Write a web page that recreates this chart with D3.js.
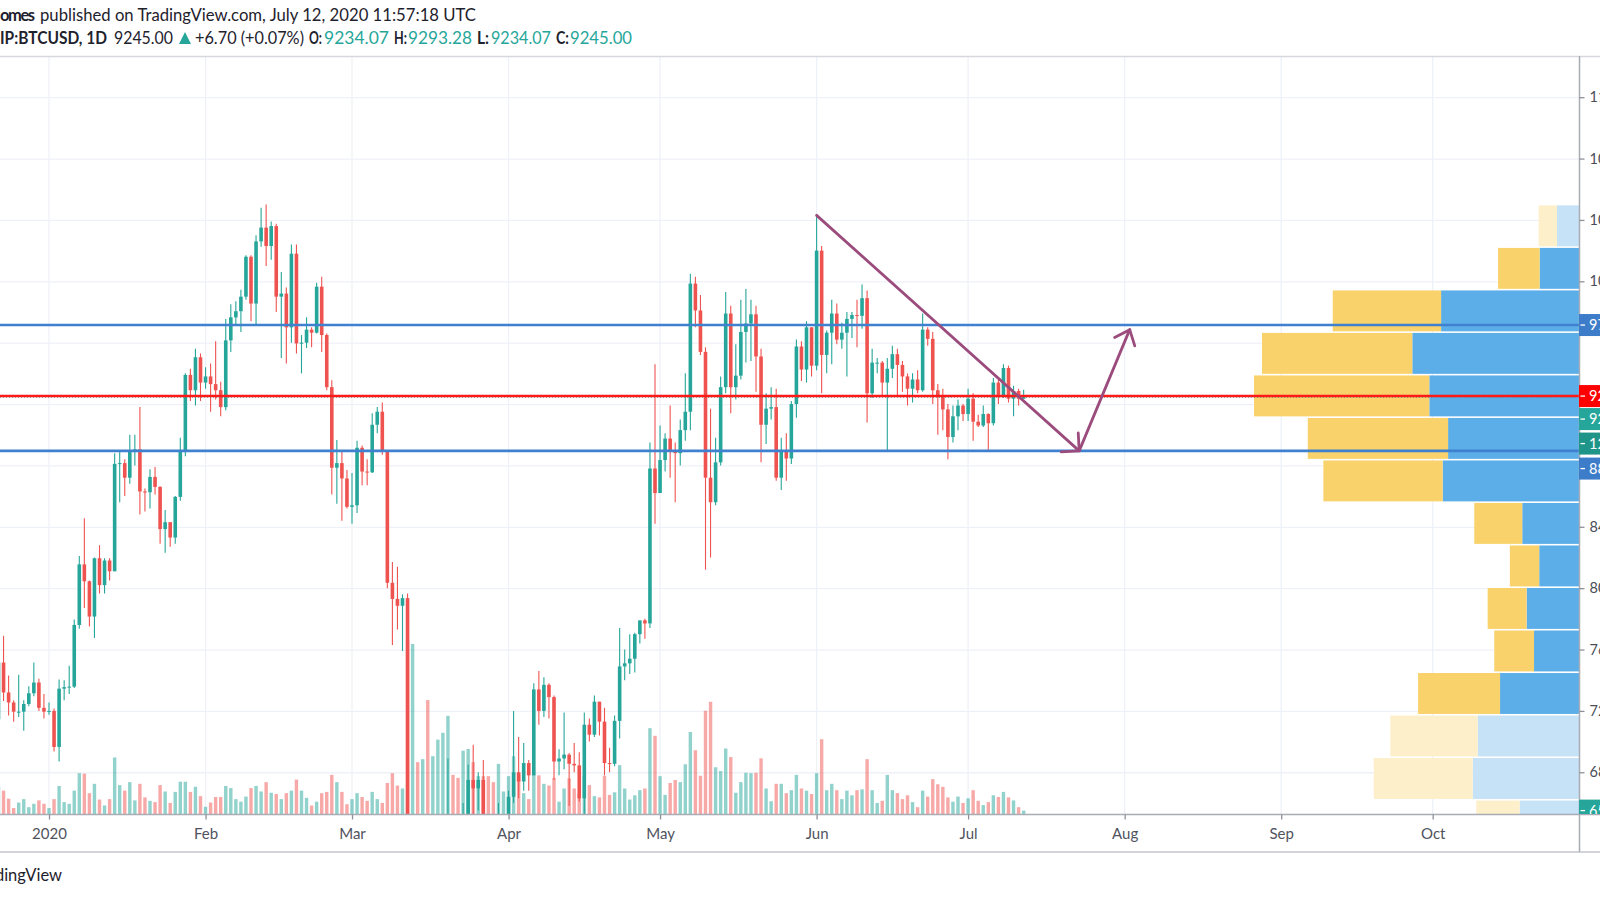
<!DOCTYPE html>
<html><head><meta charset="utf-8">
<script src="https://cdn.jsdelivr.net/npm/d3@7"></script>
<style>html,body{margin:0;padding:0;background:#fff;overflow:hidden}text{font-family:Lato,"Open Sans",sans-serif}</style>
</head><body><svg id="c" width="1600" height="900"></svg>
<script>
// ---------- DATA ----------
const firstDay = "2019-12-21", lastDay = "2020-07-12";
const open = [
// Dec 21-31
7190,7145,7515,7320,7255,7195,7195,7245,7315,7385,7220,
// Jan
7195,7200,6965,7345,7355,7358,7760,8155,8045,7815,8195,8020,8180,8110,8810,8815,8720,8900,8905,8630,8625,8725,8660,8385,8430,8330,8595,8900,9390,9290,9505,
// Feb
9340,9380,9330,9290,9180,9615,9765,9805,9900,10160,9855,10260,10350,10230,10360,9900,9920,9700,10180,9595,9600,9685,9665,9965,9650,9310,8785,8815,8715,
// Mar
8530,8540,8915,8760,8755,9065,9150,8895,8035,7930,7885,7935,4800,5590,5175,5360,5015,5360,5410,6180,6200,6185,5815,6470,6750,6695,6750,6370,6255,5880,6395,
// Apr
6420,6640,6800,6740,6860,6780,7340,7200,7370,7290,6870,6890,6915,6855,6845,6630,7110,7045,7260,7130,6860,6855,7135,7490,7510,7540,7700,7790,7770,8780,
// May
8620,8835,8975,8900,8880,9030,9150,9985,9810,9540,8720,8560,8820,9310,9790,9310,9385,9670,9725,9785,9510,9065,9170,9180,8720,8900,8845,9200,9575,9425,9700,
// Jun
9450,10200,9520,9665,9790,9620,9665,9755,9780,9775,9890,9270,9470,9470,9340,9430,9525,9455,9380,9300,9360,9290,9685,9625,9290,9250,9165,8985,9120,9190,
// Jul
9135,9235,9085,9060,9135,9075,9340,9250,9435,9235,9285,9234.07];
const high = [
7195,7520,7690,7430,7270,7435,7270,7360,7515,7410,7310,
7255,7215,7405,7400,7495,7795,8210,8455,8050,8200,8280,8195,8195,8880,8900,8840,9000,9000,9180,8650,8775,8790,8665,8510,8430,8600,8980,9400,9430,9560,9530,
9440,9465,9610,9345,9755,9850,9870,9945,10170,10170,10300,10480,10500,10390,10375,10060,9960,10240,10240,9650,9765,9700,9990,10030,9660,9355,8965,8890,8770,
8750,8960,8930,8840,9140,9180,9210,8900,8170,8140,7960,7965,5950,5650,5900,5390,5560,5450,6400,6890,6450,6410,6600,6850,6980,6800,6880,6380,6265,6600,6520,
6680,7200,7030,6990,6880,7380,7460,7420,7380,7300,6950,7190,6925,6990,6930,7190,7150,7300,7260,7220,6960,7170,7740,7600,7700,7710,7790,7800,8950,9460,
9060,9010,9190,8950,9100,9400,10050,10030,9910,9570,9170,8980,9380,9930,9840,9590,9880,9950,9880,9840,9560,9270,9310,9300,8980,9010,9220,9620,9610,9740,9700,
10430,10230,9680,9880,9855,9730,9800,9800,9880,9980,9940,9560,9500,9480,9500,9580,9560,9480,9400,9400,9420,9790,9700,9670,9330,9300,9200,9190,9230,9200,
9300,9270,9130,9190,9140,9370,9365,9460,9450,9320,9300,9293.28];
const low = [
7130,7130,7265,7170,7130,7160,7070,7230,7295,7200,7150,
7175,6935,6870,7270,7310,7350,7735,7870,7750,7675,7965,7965,8050,8110,8560,8600,8680,8800,8480,8500,8520,8610,8290,8230,8270,8290,8570,8860,9220,9190,9220,
9300,9150,9230,9120,9160,9540,9720,9670,9880,9740,9710,10225,10100,10140,9800,9500,9465,9600,9530,9400,9565,9570,9660,9540,9290,8610,8550,8440,8520,
8420,8490,8670,8670,8750,9010,8870,8000,7630,7730,7590,4410,3850,5060,5110,4450,4940,5080,5270,5690,5860,5740,5700,6400,6490,6550,6280,6000,5860,5860,6370,
6160,6600,6630,6680,6680,6780,7110,7160,7150,6750,6780,6820,6580,6800,6610,6480,7000,7030,7040,6780,6800,6840,7020,7400,7440,7450,7640,7670,7740,8420,
8620,8760,8720,8560,8800,8960,9030,9700,9520,8120,8200,8540,8800,9270,9140,9230,9360,9470,9480,9280,8820,8940,9100,8700,8640,8700,8810,9110,9350,9340,9380,
9420,9270,9400,9460,9590,9560,9380,9630,9570,9690,9080,9240,9400,9250,8900,9370,9250,9280,9190,9210,9270,9280,9580,9200,9000,9030,8840,8950,9030,9090,
9090,8960,9050,9050,8900,9060,9200,9240,9210,9120,9190,9234.07];
const close = [
7145,7515,7320,7255,7195,7195,7245,7315,7385,7220,7195,
7200,6965,7345,7355,7358,7760,8155,8045,7815,8195,8020,8180,8110,8810,8815,8720,8900,8905,8630,8625,8725,8660,8385,8430,8330,8595,8900,9390,9290,9505,9340,
9380,9330,9290,9180,9615,9765,9805,9900,10160,9855,10260,10350,10230,10360,9900,9920,9700,10180,9595,9600,9685,9665,9965,9650,9310,8785,8815,8715,8530,
8540,8915,8760,8755,9065,9150,8895,8035,7930,7885,7935,4800,5590,5175,5360,5015,5360,5410,6180,6200,6185,5815,6470,6750,6695,6750,6370,6255,5880,6395,6420,
6640,6800,6740,6860,6780,7340,7200,7370,7290,6870,6890,6915,6855,6845,6630,7110,7045,7260,7130,6860,6855,7135,7490,7510,7540,7700,7790,7770,8780,8620,
8835,8975,8900,8880,9030,9150,9985,9810,9540,8720,8560,8820,9310,9790,9310,9385,9670,9725,9785,9510,9065,9170,9180,8720,8900,8845,9200,9575,9425,9700,9450,
10200,9520,9665,9790,9620,9665,9755,9780,9775,9890,9270,9470,9470,9340,9430,9525,9455,9380,9300,9360,9290,9685,9625,9290,9250,9165,8985,9120,9190,9135,
9235,9085,9060,9135,9075,9340,9250,9435,9235,9285,9235,9245.00];
// volume, thousand BTC
const volume = [
2.8,6.5,5.5,3.6,1.4,2.7,3.5,1.6,2.4,3.2,2.4,
1.4,3.5,6.6,2.8,2.4,5.5,9.6,9.5,4.9,7.1,3.4,2.0,3.5,13.3,6.8,5.5,7.5,3.2,7.1,3.9,3.1,2.8,6.8,5.3,2.6,5.2,7.6,7.6,5.2,6.4,4.2,
1.7,2.7,4.0,4.0,6.6,6.1,3.5,2.9,4.1,6.1,6.6,5.3,7.5,5.0,4.7,3.5,4.9,5.5,8.1,5.5,3.8,2.0,2.9,4.9,5.2,9.2,7.5,5.2,2.3,
3.5,4.9,4.0,3.1,5.2,3.5,2.6,7.3,9.6,6.7,6.0,41.0,40.0,12.2,12.9,26.8,13.6,17.5,19.1,23.1,9.2,8.5,14.9,15.3,12.2,8.9,8.9,8.9,7.5,11.8,5.3,
8.9,13.6,9.2,4.9,3.5,9.2,9.1,7.1,6.7,8.5,2.9,6.0,8.4,6.0,4.6,9.0,6.8,4.2,3.9,9.0,4.5,5.1,11.5,6.0,3.4,4.4,5.6,6.0,20.2,18.4,
8.9,4.5,7.3,8.0,7.5,11.7,19.3,15.0,9.0,24.3,26.4,11.0,10.1,15.4,13.4,5.0,7.5,9.7,9.6,9.7,13.1,6.0,3.0,7.1,7.1,4.9,5.6,9.2,6.0,5.5,4.7,
9.6,17.6,5.6,7.1,5.6,3.5,5.5,4.4,5.6,5.8,12.9,5.6,2.6,3.1,9.2,5.6,4.9,3.5,4.4,2.8,1.6,5.5,4.1,8.2,7.0,6.4,3.9,2.9,4.1,2.6,
3.7,5.6,3.1,2.1,2.8,4.4,4.0,5.2,3.9,3.2,1.6,0.8];

// axis ticks
const priceTicks = [6800,7200,7600,8000,8400,8800,9200,9600,10000,10400,10800,11200];
const monthTicks = ["2020-01-01","2020-02-01","2020-03-01","2020-04-01","2020-05-01","2020-06-01","2020-07-01","2020-08-01","2020-09-01","2020-10-01"];
const monthLabels = ["2020","Feb","Mar","Apr","May","Jun","Jul","Aug","Sep","Oct"];

// horizontal levels drawn by the author
const blueLevels = [9715, 8895];
const redLevel = 9252;
const lastPrice = 9245.00;
const countdownText = "12:02:42";
const lastVolumeText = "659.95";

// arrow annotation (date, price)
const arrowDates = ["2020-06-01","2020-07-23","2020-08-02"];
const arrowPrices = [10430, 8895, 9685];

// visible-range volume profile, rows from the top (24 rows over the range), thousand BTC
const profileRowCount = 24;
const profileDown = [9.2,20.8,54.2,75.2,87.7,70.2,59.7,24.0,14.7,19.5,19.9,41.0,43.7,49.5,21.7];
const profileUp   = [11.0,19.7,69.0,83.4,74.9,65.5,68.2,28.4,19.9,26.2,22.5,39.5,50.7,53.2,29.7];
const valueAreaRows = [1, 11]; // first and last row inside the value area

// header
const headerUser = "omes";
const headerPublished = "published on TradingView.com, July 12, 2020 11:57:18 UTC";
const headerSymbol = "IP:BTCUSD, 1D";
const headerChange = "+6.70 (+0.07%)";

// ---------- CHART ----------
const svg = d3.select("#c");
const W = 1600, Hh = 900;
const plotTop = 57, plotBottom = 814, plotRight = 1579, axisBottom = 852;
const UP = "#26a69a", DOWN = "#ef5350";
const parse = d3.utcParse("%Y-%m-%d");

const x = d3.scaleUtc().domain([parse("2020-01-01"), parse("2020-10-01")]).range([49, 1432.7]);
const y = d3.scaleLinear().domain([6528, 11462]).range([plotBottom, plotTop]);
const yv = d3.scaleLinear().domain([0, 40]).range([plotBottom, plotBottom - 170]);

const dates = d3.utcDay.range(parse(firstDay), d3.utcDay.offset(parse(lastDay), 1));
const bars = dates.map((d, i) => ({d, o: open[i], h: high[i], l: low[i], c: close[i], v: volume[i]}));

svg.append("rect").attr("width", W).attr("height", Hh).attr("fill", "#fff");

const defs = svg.append("defs");
defs.append("clipPath").attr("id", "plotClip").append("rect")
  .attr("x", 0).attr("y", plotTop).attr("width", plotRight).attr("height", plotBottom - plotTop);
defs.append("clipPath").attr("id", "scaleClip").append("rect")
  .attr("x", plotRight).attr("y", plotTop).attr("width", 40).attr("height", plotBottom - plotTop);

// grid
const grid = svg.append("g").attr("clip-path", "url(#plotClip)");
grid.selectAll("line.h").data(priceTicks).join("line")
  .attr("x1", 0).attr("x2", plotRight).attr("y1", d => y(d) + 0.5).attr("y2", d => y(d) + 0.5)
  .attr("stroke", "#eef1f8").attr("stroke-width", 1.3);
grid.selectAll("line.v").data(monthTicks).join("line")
  .attr("x1", d => x(parse(d))).attr("x2", d => x(parse(d))).attr("y1", plotTop).attr("y2", plotBottom)
  .attr("stroke", "#eef1f8").attr("stroke-width", 1.3);

const plot = svg.append("g").attr("clip-path", "url(#plotClip)");

// volume
plot.append("g").selectAll("rect").data(bars).join("rect")
  .attr("x", b => x(b.d) - 1.7).attr("width", 3.4)
  .attr("y", b => yv(b.v)).attr("height", b => plotBottom - yv(b.v))
  .attr("fill", b => b.c >= b.o ? UP : DOWN).attr("fill-opacity", 0.5);

// volume profile
const pTop = d3.max(high), pBottom = d3.min(low);
const bin = (pTop - pBottom) / profileRowCount;
const totals = profileDown.map((d, i) => d + profileUp[i]);
const pw = d3.scaleLinear().domain([0, d3.max(totals)]).range([0, 325]);
const prof = plot.append("g");
profileDown.forEach((dn, i) => {
  const y0 = y(pTop - i * bin) + 0.8, y1 = y(pTop - (i + 1) * bin) - 0.8;
  const inVA = i >= valueAreaRows[0] && i <= valueAreaRows[1];
  const upW = pw(profileUp[i]), dnW = pw(dn);
  prof.append("rect").attr("x", plotRight - upW).attr("y", y0).attr("width", upW).attr("height", y1 - y0)
    .attr("fill", inVA ? "#5caee9" : "#c6e2f7");
  prof.append("rect").attr("x", plotRight - upW - dnW).attr("y", y0).attr("width", dnW).attr("height", y1 - y0)
    .attr("fill", inVA ? "#f9d26b" : "#fdefca");
});

// candles
const cg = plot.append("g");
cg.selectAll("line").data(bars).join("line")
  .attr("x1", b => x(b.d)).attr("x2", b => x(b.d))
  .attr("y1", b => y(b.h)).attr("y2", b => y(b.l))
  .attr("stroke", b => b.c >= b.o ? UP : DOWN).attr("stroke-width", 1.1);
cg.selectAll("rect").data(bars).join("rect")
  .attr("x", b => x(b.d) - 1.8).attr("width", 3.6)
  .attr("y", b => y(Math.max(b.o, b.c)))
  .attr("height", b => Math.max(1, Math.abs(y(b.o) - y(b.c))))
  .attr("fill", b => b.c >= b.o ? UP : DOWN);

// levels
plot.append("line").attr("x1", 0).attr("x2", plotRight).attr("y1", y(lastPrice)).attr("y2", y(lastPrice))
  .attr("stroke", UP).attr("stroke-width", 1).attr("stroke-dasharray", "1,2");
plot.selectAll("line.blue").data(blueLevels).join("line")
  .attr("x1", 0).attr("x2", plotRight).attr("y1", d => y(d)).attr("y2", d => y(d))
  .attr("stroke", "#3f80cf").attr("stroke-width", 2.6);
plot.append("line").attr("x1", 0).attr("x2", plotRight).attr("y1", y(redLevel)).attr("y2", y(redLevel))
  .attr("stroke", "#ff1a1a").attr("stroke-width", 2.4);

// arrows
const pts = arrowDates.map((d, i) => [x(parse(d)), y(arrowPrices[i])]);
const ag = plot.append("g").attr("stroke", "#9b4c7d").attr("stroke-width", 2.8)
  .attr("fill", "none").attr("stroke-linecap", "round").attr("stroke-linejoin", "round");
ag.append("path").attr("d", d3.line()(pts));
function head(a, b, len, ang) {
  const t = Math.atan2(b[1] - a[1], b[0] - a[0]);
  return [[b[0] - len * Math.cos(t - ang), b[1] - len * Math.sin(t - ang)], b,
          [b[0] - len * Math.cos(t + ang), b[1] - len * Math.sin(t + ang)]];
}
ag.append("path").attr("d", d3.line()(head(pts[0], pts[1], 18, Math.PI / 4)));
ag.append("path").attr("d", d3.line()(head(pts[1], pts[2], 17, Math.PI / 4.5)));

// frame lines
svg.append("line").attr("x1", 0).attr("x2", W).attr("y1", 56.5).attr("y2", 56.5).attr("stroke", "#d6d8de").attr("stroke-width", 1.5);
svg.append("line").attr("x1", 0).attr("x2", W).attr("y1", plotBottom + 0.5).attr("y2", plotBottom + 0.5).attr("stroke", "#a9acb4").attr("stroke-width", 1.5);
svg.append("line").attr("x1", 0).attr("x2", W).attr("y1", axisBottom).attr("y2", axisBottom).attr("stroke", "#c4c6cc").attr("stroke-width", 1.5);
svg.append("line").attr("x1", plotRight + 0.5).attr("x2", plotRight + 0.5).attr("y1", 56).attr("y2", axisBottom).attr("stroke", "#a9acb4").attr("stroke-width", 1.5);

// time axis
const xAxis = d3.axisBottom(x).tickValues(monthTicks.map(parse))
  .tickFormat((d, i) => monthLabels[i]).tickSize(5).tickPadding(9);
const gx = svg.append("g").attr("transform", `translate(0,${plotBottom + 0.5})`).call(xAxis);
gx.select(".domain").remove();
gx.selectAll(".tick line").attr("stroke", "#8e919a").attr("stroke-width", 1.3);
gx.selectAll(".tick text").attr("fill", "#50535e").attr("font-size", 15).attr("font-family", "Lato");

// price scale labels (positions first, so the axis can skip ticks hidden under them)
const redY = y(redLevel);
const greenY = Math.max(y(lastPrice), redY + 23);
const scaleLabels = [
  {yc: y(blueLevels[0]), color: "#3d7cc9", text: blueLevels[0].toFixed(2)},
  {yc: redY, color: "#ff0000", text: redLevel.toFixed(2)},
  {yc: greenY, color: UP, text: lastPrice.toFixed(2)},
  {yc: greenY + 24.5, color: "#1f9488", text: countdownText},
  {yc: Math.max(y(blueLevels[1]), greenY + 49.5), color: "#3d7cc9", text: blueLevels[1].toFixed(2)},
  {yc: Math.max(yv(volume[volume.length - 1]), plotBottom - 6), color: UP, text: lastVolumeText}
];

// price axis
const visibleTicks = priceTicks.filter(p => scaleLabels.every(l => Math.abs(y(p) - l.yc) > 18));
const yAxis = d3.axisRight(y).tickValues(visibleTicks).tickFormat(d => d.toFixed(2)).tickSize(5).tickPadding(5);
const gy = svg.append("g").attr("transform", `translate(${plotRight + 0.5},0)`).call(yAxis);
gy.select(".domain").remove();
gy.selectAll(".tick line").attr("stroke", "#8e919a").attr("stroke-width", 1.3);
gy.selectAll(".tick text").attr("fill", "#4b4e58").attr("font-size", 14.5).attr("font-family", "Lato");

scaleLabels.forEach(l => {
  const g = svg.append("g").attr("clip-path", "url(#scaleClip)");
  g.append("rect").attr("x", plotRight).attr("y", l.yc - 11).attr("width", 40).attr("height", 22).attr("fill", l.color);
  g.append("line").attr("x1", plotRight + 1.5).attr("x2", plotRight + 6).attr("y1", l.yc).attr("y2", l.yc).attr("stroke", "#fff").attr("stroke-width", 1.3);
  g.append("text").attr("x", plotRight + 10).attr("y", l.yc + 5).attr("fill", "#fff").attr("font-size", 14.5).text(l.text);
});

// header
const hdr = svg.append("g").attr("font-size", 16.5).attr("fill", "#1e222d");
hdr.append("text").attr("x", 0).attr("y", 21).attr("font-weight", "bold").attr("textLength", 35).text(headerUser);
hdr.append("text").attr("x", 40).attr("y", 21).attr("textLength", 436).attr("lengthAdjust", "spacingAndGlyphs").text(headerPublished);
const row2 = [
  {t: headerSymbol, x: 0, w: 107, b: true, c: "#1e222d"},
  {t: close[close.length - 1].toFixed(2), x: 114, w: 59, c: "#1e222d"},
  {t: headerChange, x: 195, w: 109, c: "#1e222d"},
  {t: "O:", x: 309, w: 13, b: true, c: "#1e222d"},
  {t: open[open.length - 1].toFixed(2), x: 324, w: 65, c: UP},
  {t: "H:", x: 394, w: 13, b: true, c: "#1e222d"},
  {t: high[high.length - 1].toFixed(2), x: 408, w: 64, c: UP},
  {t: "L:", x: 477, w: 12, b: true, c: "#1e222d"},
  {t: low[low.length - 1].toFixed(2), x: 491, w: 60, c: UP},
  {t: "C:", x: 556, w: 13, b: true, c: "#1e222d"},
  {t: close[close.length - 1].toFixed(2), x: 570, w: 62, c: UP}
];
row2.forEach(r => hdr.append("text").attr("x", r.x).attr("y", 44).attr("fill", r.c)
  .attr("font-weight", r.b ? "bold" : "normal").attr("textLength", r.w).attr("lengthAdjust", "spacingAndGlyphs").text(r.t));
hdr.append("path").attr("d", "M179,44 L185,32 L191,44 Z").attr("fill", UP);

// footer
svg.append("text").attr("x", 62).attr("y", 881).attr("text-anchor", "end").attr("font-size", 16.5).attr("fill", "#1e222d").text("TradingView");
</script>
</body></html>
